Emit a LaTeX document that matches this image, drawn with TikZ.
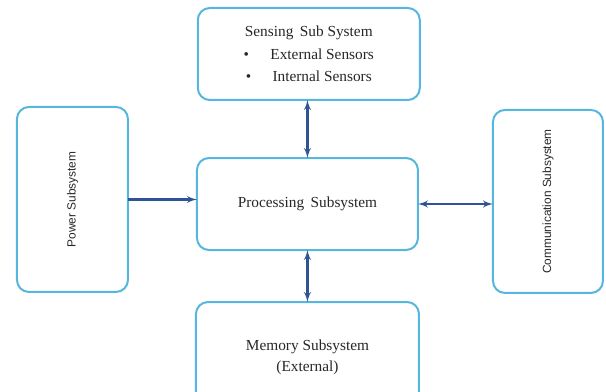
\documentclass[tikz,border=0pt]{standalone}
\usepackage{fontspec}
\setmainfont{Liberation Serif}
\setsansfont{Liberation Sans}
\usepackage{tikz}
\usetikzlibrary{calc}
\usetikzlibrary{arrows}
\usetikzlibrary{positioning}
\definecolor{boxblue}{RGB}{86,182,222}
\definecolor{linkblue}{RGB}{47,84,150}
\tikzstyle{subsys} = [draw=boxblue, line width=1.5pt, rounded corners=9pt, outer sep=0pt, inner sep=0pt, text=black!85, align=center, font=\fontsize{11.5}{17}\selectfont]
\tikzstyle{sidesys} = [subsys, font=\sffamily\fontsize{8.9}{10}\selectfont]
\tikzstyle{arrow} = [-latex', draw=linkblue, fill=linkblue, line width=1.6pt]
\tikzstyle{darrow} = [latex'-latex', draw=linkblue, fill=linkblue, line width=1.6pt]

\begin{document}
\begin{tikzpicture}
            \useasboundingbox (0,0) rectangle (454.5pt,-294pt);
            \node (proc) [subsys, minimum width=165.75pt, minimum height=69pt] at (230.6pt,-153pt) {Processing\, Subsystem};
            \node (sense) [subsys, minimum width=166.5pt, minimum height=69pt, above=43.5pt of proc, xshift=1pt] {Sensing\, Sub System\\ \textbullet\hspace{16pt}External Sensors\\ \textbullet\hspace{16pt}Internal Sensors};
            \node (memory) [subsys, minimum width=167.25pt, minimum height=82.5pt, below=39pt of proc, font=\fontsize{11.5}{16}\selectfont] {Memory Subsystem\\(External)};
            \node (power) [sidesys, minimum width=83.25pt, minimum height=138.75pt, left=51.75pt of proc, yshift=3.4pt] {\rotatebox{90}{Power Subsystem}};
            \node (comm) [sidesys, minimum width=82.5pt, minimum height=137.25pt, right=56.25pt of proc, yshift=1.9pt] {\rotatebox{90}{Communication Subsystem}};
            \draw [darrow] (proc.north) -- (proc.north |- sense.south);
            \draw [darrow] (proc.south) -- (proc.south |- memory.north);
            \draw [arrow] (power.east) -- (power.east -| proc.west);
            \draw [darrow] (proc.east) -- (proc.east -| comm.west);
        \end{tikzpicture}
\end{document}
